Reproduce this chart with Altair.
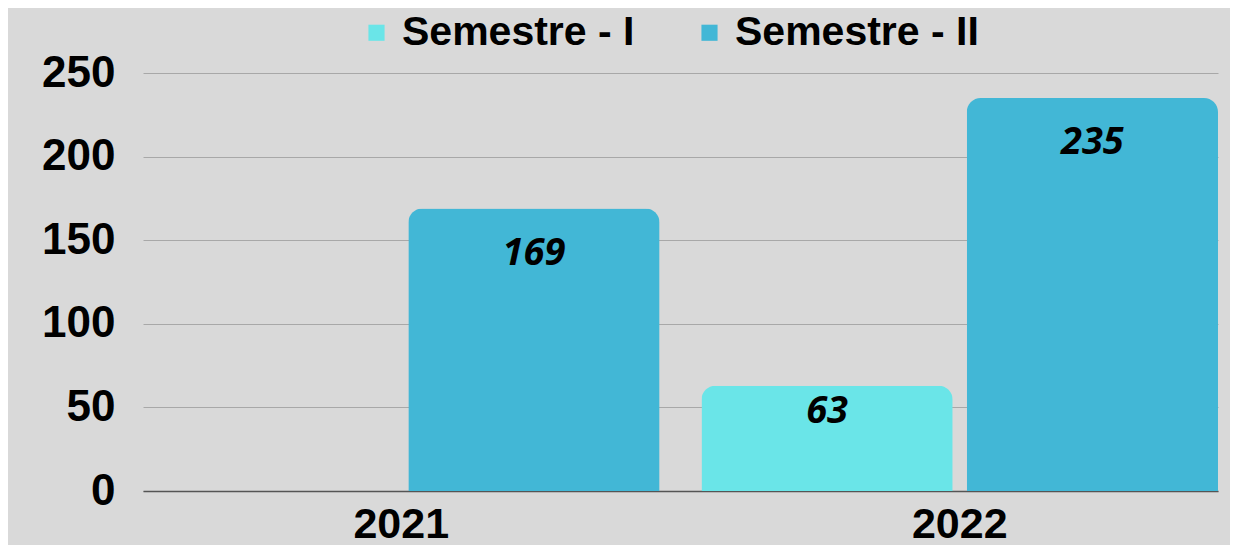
import altair as alt
import pandas as pd

years = ["2021", "2021", "2022", "2022"]
semesters = ["Semestre - I", "Semestre - II", "Semestre - I", "Semestre - II"]
values = [0, 169, 63, 235]
sem_order = ["Semestre - I", "Semestre - II"]
colors = ["#6ae5e8", "#42b7d6"]
y_ticks = [0, 50, 100, 150, 200, 250]

df = pd.DataFrame({"year": years, "semester": semesters, "value": values})

FONT = "Liberation Sans"

x_enc = alt.X(
    "year:N", title=None,
    scale=alt.Scale(paddingInner=0.075, paddingOuter=0),
    axis=alt.Axis(labelAngle=0, labelFont=FONT, labelFontWeight="bold",
                  labelFontSize=43, labelColor="black", labelPadding=12,
                  domainColor="#555555", domainWidth=1.5, ticks=False),
)
xo_enc = alt.XOffset("semester:N",
                     scale=alt.Scale(domain=sem_order, paddingInner=0.053, paddingOuter=0))
y_enc = alt.Y(
    "value:Q", title=None, scale=alt.Scale(domain=[0, 250]),
    axis=alt.Axis(values=y_ticks, domain=False, ticks=False, grid=True,
                  gridColor="#a8a8a8", gridWidth=1,
                  labelFont=FONT, labelFontWeight="bold", labelFontSize=44,
                  labelColor="black", labelPadding=28),
)

bars = alt.Chart(df).transform_filter("datum.value > 0").mark_bar(
    cornerRadiusTopLeft=14, cornerRadiusTopRight=14
).encode(
    x=x_enc, xOffset=xo_enc, y=y_enc,
    color=alt.Color("semester:N", scale=alt.Scale(domain=sem_order, range=colors),
                    legend=alt.Legend(title=None, orient="none", direction="horizontal",
                                      legendX=213, legendY=-61, padding=0,
                                      symbolType="square", symbolSize=260,
                                      symbolStrokeWidth=0, symbolOpacity=1,
                                      labelFont=FONT, labelFontWeight="bold",
                                      labelFontSize=41, labelColor="black",
                                      labelOffset=5, columnPadding=54,
                                      labelLimit=400)),
)

labels = alt.Chart(df).transform_filter("datum.value > 0").transform_calculate(
    labelpos="datum.value - min(datum.value * 0.25, 27)"
).mark_text(
    font="Open Sans", fontWeight="bold", fontStyle="italic", fontSize=38,
    baseline="middle", align="center", color="black"
).encode(
    x=x_enc, xOffset=xo_enc,
    y=alt.Y("labelpos:Q", scale=alt.Scale(domain=[0, 250])),
    text="value:Q",
)

chart = alt.layer(bars, labels).properties(
    width=1075, height=418,
    background="#d9d9d9",
    autosize=alt.AutoSizeParams(type="none"),
    padding={"left": 135, "top": 65, "right": 12, "bottom": 54},
).configure_view(stroke=None)

chart.save("out.html", embed_options={"renderer": "svg", "actions": False})
